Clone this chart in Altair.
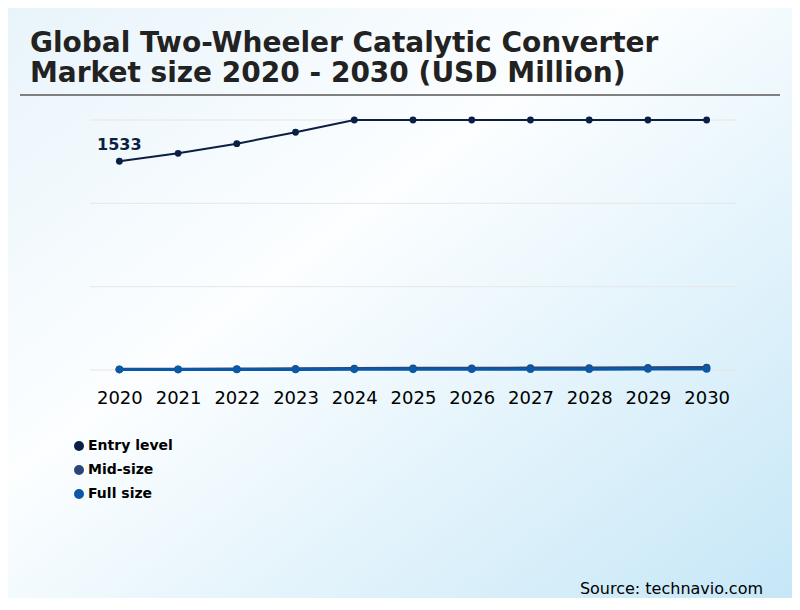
import altair as alt
import pandas as pd

years = ["2020", "2021", "2022", "2023", "2024", "2025", "2026", "2027", "2028", "2029", "2030"]
entry_level = [1533, 1591, 1662, 1746, 1836, 1836, 1836, 1836, 1836, 1836, 1836]
mid_size = [5, 6, 7, 9, 11, 12, 13, 14, 15, 17, 18]
full_size = [3, 3, 4, 4, 5, 5, 6, 6, 6, 7, 7]
segments = ["Entry level", "Mid-size", "Full size"]
colors = ["#0b1f45", "#2c4478", "#0a58a6"]
y_max = 1836
grid_values = [0, 612, 1224, 1836]
title_lines = ["Global Two-Wheeler Catalytic Converter", "Market size 2020 - 2030 (USD Million)"]
source_text = "Source: technavio.com"

rows = []
for seg, vals in zip(segments, [entry_level, mid_size, full_size]):
    for yr, v in zip(years, vals):
        rows.append({"Year": yr, "Segment": seg, "Value": v, "order": segments.index(seg)})
df = pd.DataFrame(rows)
one = pd.DataFrame({"a": [0]})
grid_df = pd.DataFrame({"g": grid_values})

W, H = 646, 250
PAD = {"left": 82, "top": 112, "right": 56, "bottom": 228}

xs = alt.Scale(domain=years, type="point", padding=0.5)
ys = alt.Scale(domain=[0, y_max], nice=False, zero=True)
x_enc = alt.X("Year:O", scale=xs,
              axis=alt.Axis(title=None, labelAngle=0, labelFontSize=18, labelColor="#000000",
                            labelFont="DejaVu Sans", ticks=False, domain=False, labelPadding=19,
                            grid=False, zindex=1))
y_enc = alt.Y("Value:Q", scale=ys, axis=None)
color_scale = alt.Scale(domain=segments, range=colors)

legend = alt.Legend(title=None, orient="none", legendX=-18, legendY=319,
                    symbolType="circle", symbolSize=100, symbolStrokeWidth=0,
                    labelFontSize=14, labelFont="DejaVu Sans", labelFontWeight="bold",
                    labelColor="#000000", rowPadding=10, labelOffset=2,
                    padding=0, direction="vertical", zindex=1)

gradient = {
    "gradient": "linear", "x1": 0, "y1": 0, "x2": 1, "y2": 1,
    "stops": [
        {"offset": 0, "color": "#e8f4fb"},
        {"offset": 0.4, "color": "#fcfeff"},
        {"offset": 1, "color": "#c6e7f7"},
    ],
}

bg = alt.Chart(one).mark_rect(fill=gradient, stroke=None).encode(
    x=alt.value(-82), x2=alt.value(702), y=alt.value(-112), y2=alt.value(478)
)

grid = alt.Chart(grid_df).mark_rule(color="#e6e6e6", strokeWidth=1).encode(
    y=alt.Y("g:Q", scale=ys, axis=None), x=alt.value(0), x2=alt.value(W)
)

title = alt.Chart(one).mark_text(
    align="left", baseline="alphabetic", font="DejaVu Sans", fontSize=28,
    fontWeight="bold", color="#222222", lineHeight=30
).encode(x=alt.value(-60), y=alt.value(-68), text=alt.value(title_lines))

rule = alt.Chart(one).mark_rule(color="#808080", strokeWidth=2).encode(
    x=alt.value(-70), x2=alt.value(690), y=alt.value(-25)
)

lines = alt.Chart(df).mark_line(interpolate="linear").encode(
    x=x_enc, y=y_enc,
    color=alt.Color("Segment:N", scale=color_scale, legend=legend),
    strokeWidth=alt.condition(alt.datum.Segment == "Entry level", alt.value(2), alt.value(3)),
    detail="Segment:N",
    order="order:Q",
)

points = alt.Chart(df).mark_circle(opacity=1).encode(
    x=alt.X("Year:O", scale=xs),
    y=alt.Y("Value:Q", scale=ys),
    color=alt.Color("Segment:N", scale=color_scale, legend=legend),
    size=alt.condition(alt.datum.Segment == "Entry level", alt.value(46), alt.value(58)),
)

label_df = pd.DataFrame({"Year": [years[0]], "Value": [entry_level[0]], "t": [str(entry_level[0])]})
label = alt.Chart(label_df).mark_text(
    align="center", baseline="bottom", dy=-8, font="DejaVu Sans", fontSize=16,
    fontWeight="bold", color=colors[0]
).encode(
    x=alt.X("Year:O", scale=xs),
    y=alt.Y("Value:Q", scale=ys),
    text="t:N",
)

source = alt.Chart(one).mark_text(
    align="right", baseline="alphabetic", font="DejaVu Sans", fontSize=16, color="#000000"
).encode(x=alt.value(673), y=alt.value(474), text=alt.value(source_text))

chart = alt.layer(bg, grid, title, rule, lines, points, label, source).properties(
    width=W, height=H,
    autosize=alt.AutoSizeParams(type="none"),
    padding=PAD,
    background="white",
).configure_view(stroke=None)

chart.save("out.html", embed_options={"renderer": "svg", "actions": False})
